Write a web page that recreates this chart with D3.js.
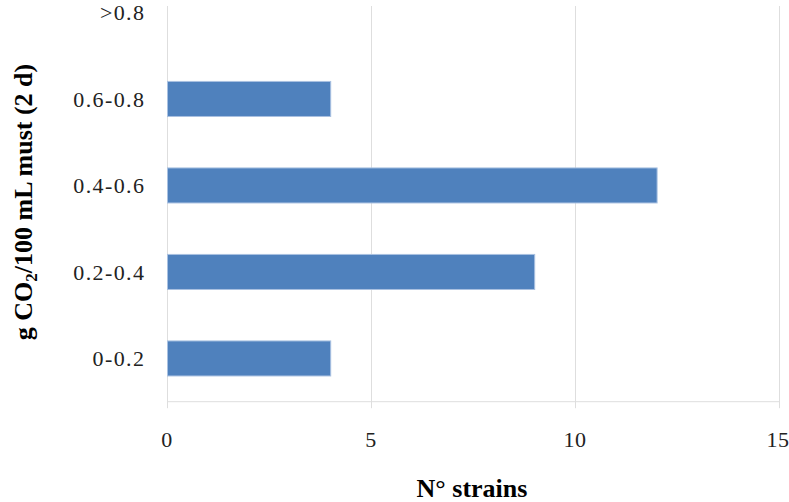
<!DOCTYPE html>
<html>
<head>
<meta charset="utf-8">
<script src="https://cdn.jsdelivr.net/npm/d3@7"></script>
<style>
  html, body { margin: 0; padding: 0; background: #fff; }
  svg { display: block; }
</style>
</head>
<body>
<div id="chart"></div>
<script>
const categories = ["0-0.2", "0.2-0.4", "0.4-0.6", "0.6-0.8", ">0.8"];
const values = [4, 9, 12, 4, 0];
const xTicks = [0, 5, 10, 15];
const xTitle = "N° strains";

const W = 789, H = 502;
const svg = d3.select("#chart").append("svg").attr("width", W).attr("height", H);

const x = d3.scaleLinear().domain([0, 15]).range([167.5, 779.5]);
const y = d3.scaleBand().domain(categories).range([401.7, -30.8])
  .paddingInner(0.595).paddingOuter(0.2975);

const gridTop = 6, gridBottom = 401.7;

// vertical gridlines
svg.append("g").selectAll("line").data(xTicks).join("line")
  .attr("x1", d => x(d)).attr("x2", d => x(d))
  .attr("y1", gridTop).attr("y2", gridBottom + 6.5)
  .attr("stroke", "#dedede").attr("stroke-width", 1);

// bottom axis line
svg.append("line")
  .attr("x1", x(0)).attr("x2", x(15))
  .attr("y1", gridBottom).attr("y2", gridBottom)
  .attr("stroke", "#dedede").attr("stroke-width", 1);

// bars
svg.append("g").selectAll("rect").data(categories.map((c, i) => ({c, v: values[i]})).filter(d => d.v > 0))
  .join("rect")
  .attr("x", x(0))
  .attr("y", d => y(d.c))
  .attr("width", d => x(d.v) - x(0))
  .attr("height", y.bandwidth())
  .attr("fill", "#4f81bd")
  .attr("stroke", "#a9c1e1").attr("stroke-width", 1);

// y tick labels
svg.append("g").selectAll("text").data(categories).join("text")
  .attr("x", 145.4)
  .attr("y", d => y(d) + y.bandwidth() / 2 + 7.6)
  .attr("text-anchor", "end")
  .attr("font-family", "Liberation Serif, Times New Roman, serif")
  .attr("font-size", 22)
  .attr("letter-spacing", 1.4)
  .attr("fill", "#222")
  .text(d => d);

// x tick labels
svg.append("g").selectAll("text").data(xTicks).join("text")
  .attr("x", d => Math.min(x(d) - 0.5, 778))
  .attr("y", 446.5)
  .attr("text-anchor", "middle")
  .attr("font-family", "Liberation Serif, Times New Roman, serif")
  .attr("font-size", 22)
  .attr("letter-spacing", 0.5)
  .attr("fill", "#222")
  .text(d => d);

// x title
svg.append("text")
  .attr("x", 472)
  .attr("y", 496.5)
  .attr("text-anchor", "middle")
  .attr("font-family", "Liberation Serif, Times New Roman, serif")
  .attr("font-size", 26)
  .attr("font-weight", "bold")
  .attr("fill", "#000")
  .text(xTitle);

// y title
const yt = svg.append("text")
  .attr("transform", "translate(32,202) rotate(-90)")
  .attr("text-anchor", "middle")
  .attr("font-family", "Liberation Serif, Times New Roman, serif")
  .attr("font-size", 26)
  .attr("font-weight", "bold")
  .attr("fill", "#000");
yt.append("tspan").text("g CO");
yt.append("tspan").attr("font-size", 17).attr("dy", 5).text("2");
yt.append("tspan").attr("dy", -5).text("/100 mL must (2 d)");
</script>
</body>
</html>
